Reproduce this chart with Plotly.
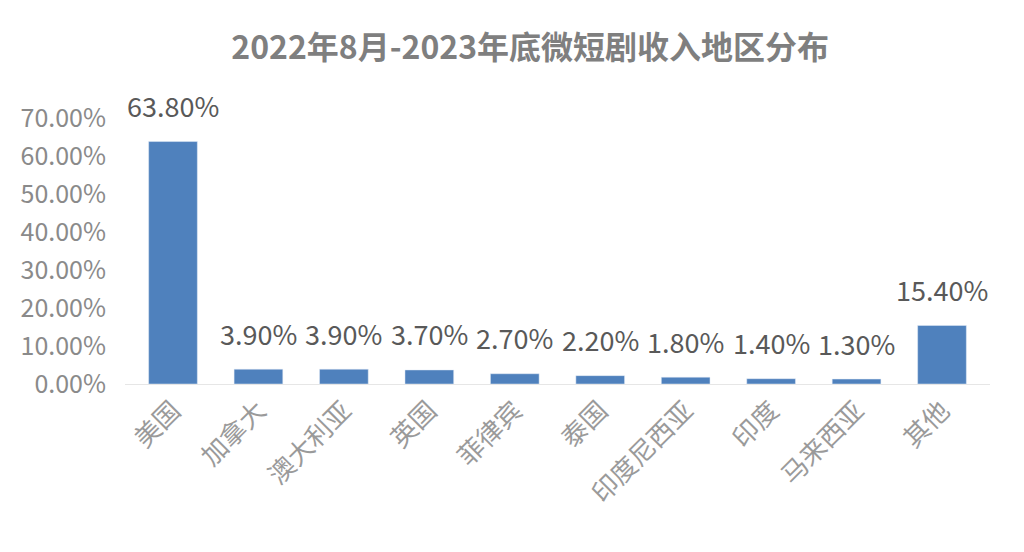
import plotly.graph_objects as go

categories = ["美国", "加拿大", "澳大利亚", "英国", "菲律宾", "泰国", "印度尼西亚", "印度", "马来西亚", "其他"]
values = [63.8, 3.9, 3.9, 3.7, 2.7, 2.2, 1.8, 1.4, 1.3, 15.4]
tick_vals = [0, 10, 20, 30, 40, 50, 60, 70]
tick_text = [f"{v:.2f}%" for v in tick_vals]
title_text = "2022年8月-2023年底微短剧收入地区分布"

fig = go.Figure(go.Bar(
    x=categories,
    y=values,
    marker_color="#4F81BD",
    cliponaxis=False,
))

for c, v in zip(categories, values):
    fig.add_annotation(x=c, y=v, text=f"{v:.2f}%", showarrow=False, xanchor="center",
                       yanchor="middle", yshift=36,
                       font=dict(size=27, color="#595959", family="Noto Sans CJK SC"))

fig.update_layout(
    width=1024, height=552,
    paper_bgcolor="white", plot_bgcolor="white",
    margin=dict(l=117, r=42, t=110, b=176, autoexpand=False),
    bargap=0.43,
    showlegend=False,
    title=dict(text=f"<b>{title_text}</b>", x=0.51, xanchor="center", y=0.927, yanchor="middle",
               font=dict(size=32, color="#7f7f7f", family="Noto Sans CJK SC")),
    xaxis=dict(tickangle=-45, tickfont=dict(size=26, color="#9a9a9a", family="Noto Sans CJK SC"),
               showline=True, linecolor="#e6e6e6", linewidth=1, ticks="", automargin=False),
    yaxis=dict(range=[0, 70], tickvals=tick_vals, ticktext=tick_text, showgrid=False,
               zeroline=False, tickfont=dict(size=25, color="#8a8a8a", family="Noto Sans CJK SC"),
               ticklabelstandoff=18, automargin=False),
)

fig.write_html("out.html")
